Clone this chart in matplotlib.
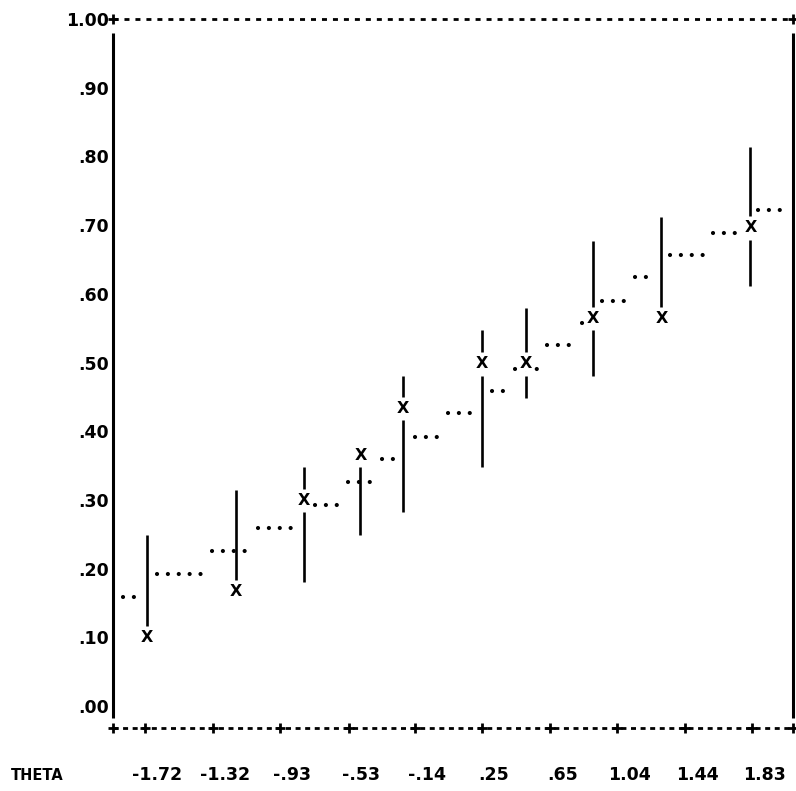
import numpy as np
import matplotlib.pyplot as plt
from matplotlib.transforms import ScaledTranslation

plt.rcParams['font.family'] = ['DejaVu Sans']
plt.rcParams['font.weight'] = 'bold'

# axis scales
theta_ticks = [-1.72, -1.32, -0.93, -0.53, -0.14, 0.25, 0.65, 1.04, 1.44, 1.83]
theta_labels = ["-1.72", "-1.32", "-.93", "-.53", "-.14", ".25", ".65", "1.04", "1.44", "1.83"]
p_ticks = [0.0, 0.1, 0.2, 0.3, 0.4, 0.5, 0.6, 0.7, 0.8, 0.9, 1.0]
p_labels = [".00", ".10", ".20", ".30", ".40", ".50", ".60", ".70", ".80", ".90", "1.00"]

# observed proportion correct per score group (X) with interval bars
group_theta = [-1.71, -1.19, -0.79, -0.46, -0.21, 0.25, 0.51, 0.90, 1.30, 1.82]
obs_p = [0.100, 0.166, 0.299, 0.365, 0.433, 0.498, 0.498, 0.564, 0.564, 0.696]
ci_low = [0.100, 0.180, 0.180, 0.249, 0.282, 0.348, 0.448, 0.481, 0.564, 0.612]
ci_high = [0.249, 0.315, 0.348, 0.347, 0.481, 0.547, 0.580, 0.677, 0.712, 0.813]

# model curve, printed as dotted steps
curve_from = [-1.849, -1.650, -1.328, -1.059, -0.726, -0.533, -0.334, -0.141, 0.052, 0.309,
              0.444, 0.631, 0.836, 0.953, 1.145, 1.350, 1.602, 1.865]
curve_to = [-1.778, -1.387, -1.123, -0.843, -0.591, -0.392, -0.258, 0.006, 0.192, 0.385,
            0.578, 0.777, 0.846, 1.116, 1.245, 1.567, 1.760, 2.023]
curve_p = [0.159, 0.192, 0.226, 0.259, 0.292, 0.326, 0.359, 0.392, 0.426, 0.458,
           0.491, 0.525, 0.557, 0.589, 0.624, 0.656, 0.689, 0.722]

x_min, x_max = -1.907, 2.069
y_min, y_max = -0.032, 1.0

fig = plt.figure(figsize=(7.96, 7.91), dpi=100)
ax = fig.add_axes([113 / 796, 1 - 728 / 791, 680 / 796, 709 / 791])
ax.set_xlim(x_min, x_max)
ax.set_ylim(y_min, y_max)
for s in ax.spines.values():
    s.set_visible(False)

# frame drawn like a line printer
ax.axhline(1.0, color='black', lw=2, ls=(0, (1.8, 2.15)), clip_on=False)
ax.axhline(y_min, color='black', lw=2, ls=(0, (1.8, 1.65)), clip_on=False)
ax.vlines([x_min, x_max], -0.017, 0.980, color='black', lw=2.2, clip_on=False)
ax.plot([x_min] + theta_ticks + [x_max], [y_min] * (len(theta_ticks) + 2), '+',
        color='black', ms=6.5, mew=2, clip_on=False)
ax.plot([x_min, x_max], [1.0, 1.0], '+', color='black', ms=6.5, mew=2, clip_on=False)

# model curve
ax.hlines(curve_p, curve_from, curve_to, color='black', lw=3,
          linestyles=[(0, (0.01, 2.6))] * len(curve_p), capstyle='round', zorder=2)

# interval bars, broken around the X
gap = 0.017
for t, p, lo, hi in zip(group_theta, obs_p, ci_low, ci_high):
    if hi > p + gap:
        ax.vlines(t, p + gap, hi, color='black', lw=1.9, zorder=3)
    if lo < p - gap:
        ax.vlines(t, lo, p - gap, color='black', lw=1.9, zorder=3)
    ax.text(t, p, 'X', ha='center', va='center', fontsize=11.5, zorder=4,
            bbox=dict(fc='white', ec='none', pad=0))

ax.set_yticks(p_ticks, p_labels, fontsize=12.5)
ax.set_xticks(theta_ticks, theta_labels, fontsize=12.5)
ax.tick_params(axis='y', length=0, pad=3)
ax.tick_params(axis='x', length=0, pad=27)
shift = ScaledTranslation(12 / 100, 0, fig.dpi_scale_trans)
for lab in ax.get_xticklabels():
    lab.set_transform(lab.get_transform() + shift)

fig.text(37 / 796, 1 - 775 / 791, 'THETA', ha='center', va='center', fontsize=10.5)

fig.savefig('out.png', dpi=100)
